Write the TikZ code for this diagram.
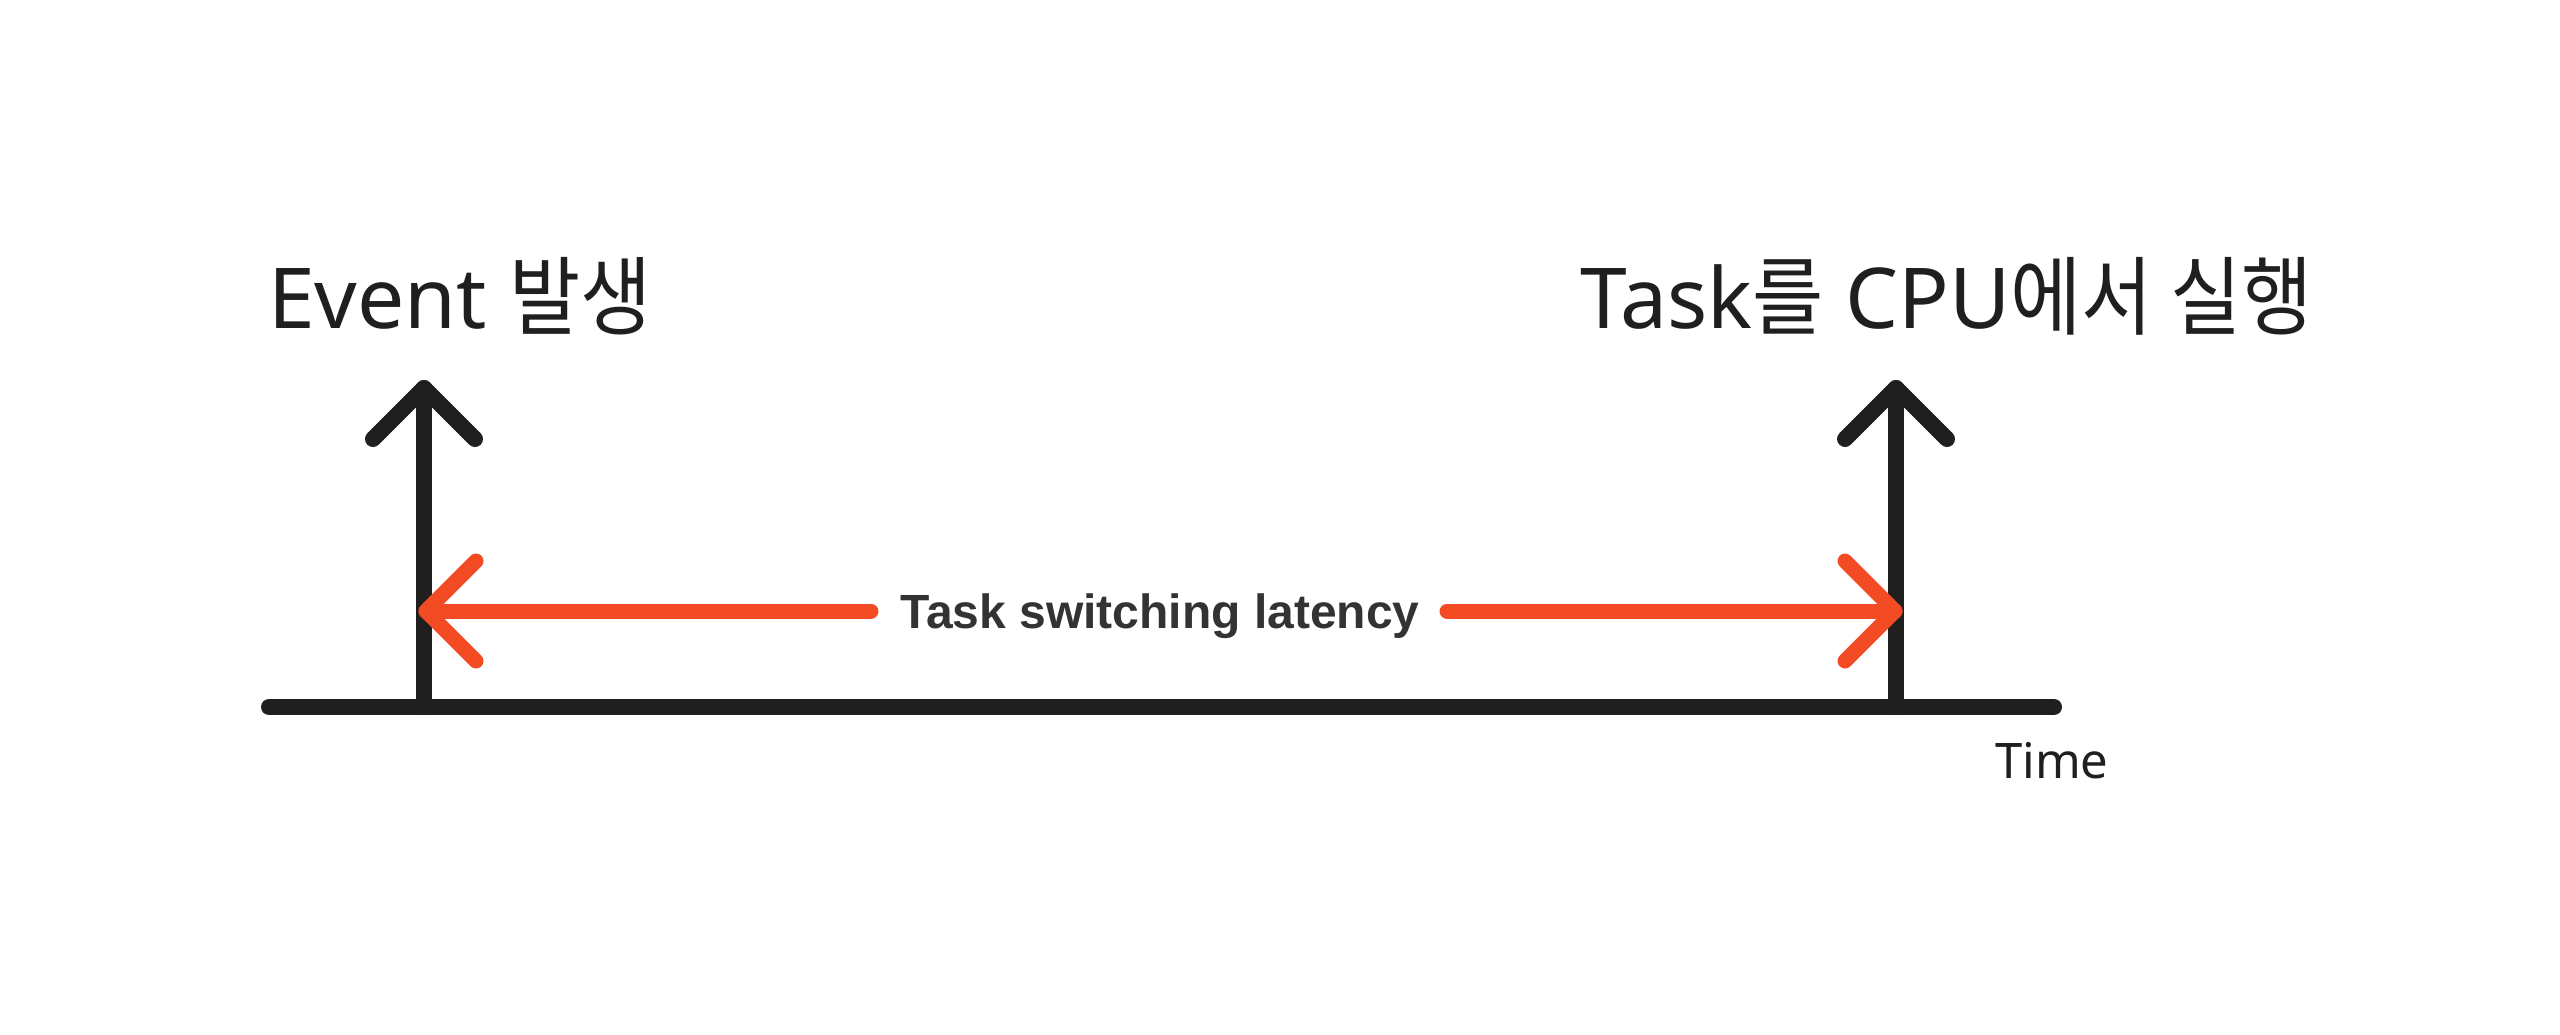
\documentclass[tikz,border=0pt]{standalone}
\usepackage{fontspec}
\setmainfont{Noto Sans}
\newfontfamily\kr{Noto Sans CJK KR}[FakeStretch=0.9]
\newfontfamily\latfont{Liberation Sans}
\usetikzlibrary{calc}
\definecolor{ink}{HTML}{1F1F1F}
\definecolor{lbl}{HTML}{333333}
\definecolor{redline}{HTML}{F34B23}
\tikzset{
  blackline/.style={draw=ink,line width=16pt,line cap=round,line join=round},
  redstroke/.style={draw=redline,line width=15pt,line cap=round,line join=round},
  title/.style={inner sep=0pt,anchor=base west,text=ink,font=\fontsize{84}{90}\selectfont},
  axislabel/.style={inner sep=0pt,anchor=base west,text=ink,font=\fontsize{49}{56}\selectfont},
  latlabel/.style={inner sep=0pt,anchor=base,text=lbl,font=\latfont\bfseries\fontsize{48}{56}\selectfont},
}
\newcommand{\hg}[1]{{\kr\fontsize{86}{90}\selectfont #1}}
\begin{document}
\begin{tikzpicture}[x=1pt,y=-1pt]
\useasboundingbox (0,0) rectangle (2560,1035);
\fill[white] (0,0) rectangle (2560,1035);
% coordinates
\coordinate (tl) at (269,707);
\coordinate (tr) at (2054,707);
\coordinate (lb) at (424,707);
\coordinate (lt) at (424,388);
\coordinate (rb) at (1896,707);
\coordinate (rt) at (1896,388);
\coordinate (redL) at (426,611);
\coordinate (redLe) at (871,611);
\coordinate (redRs) at (1447,611);
\coordinate (redR) at (1895,611);
% timeline
\draw[blackline] (tl) -- (tr);
% vertical arrows
\draw[blackline] (lb) -- (lt);
\draw[blackline] ($(lt)+(-51,51)$) -- (lt) -- ($(lt)+(51,51)$);
\draw[blackline] (rb) -- (rt);
\draw[blackline] ($(rt)+(-51,51)$) -- (rt) -- ($(rt)+(51,51)$);
% red latency arrow
\draw[redstroke] (redL) -- (redLe);
\draw[redstroke] ($(redL)+(50,-50)$) -- (redL) -- ($(redL)+(50,50)$);
\draw[redstroke] (redRs) -- (redR);
\draw[redstroke] ($(redR)+(-50,-50)$) -- (redR) -- ($(redR)+(-50,50)$);
% labels
\node[title] (ev) at (268,328) {Event \hg{발생}};
\node[title] (tk) at (1580,328) {Task\hg{를} CPU\hg{에서 실행}};
\node[axislabel] (time) at (1995,778) {Time};
\node[latlabel] (lat) at (1160,628) {Task switching latency};
\end{tikzpicture}
\end{document}
